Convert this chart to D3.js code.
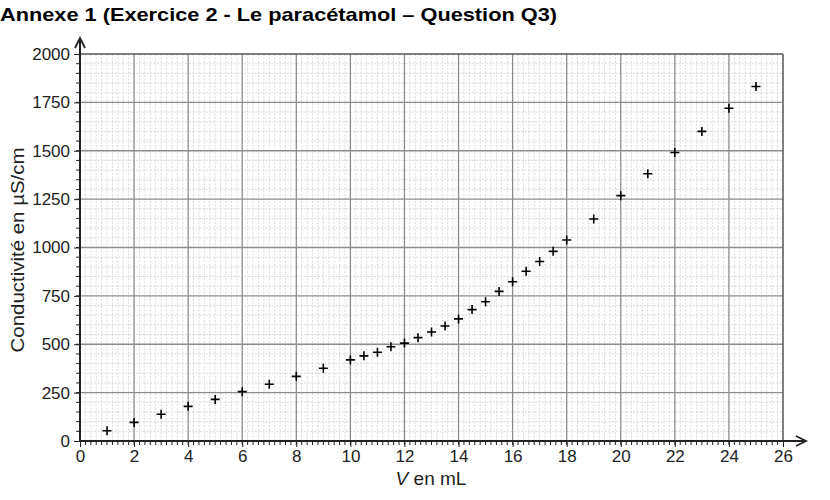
<!DOCTYPE html>
<html><head><meta charset="utf-8">
<script src="https://cdn.jsdelivr.net/npm/d3@7"></script>
<style>body{margin:0;background:#fff;} svg{display:block;font-family:"Liberation Sans",Arial,sans-serif;}</style>
</head><body>
<svg id="c" width="830" height="500"></svg>
<script>
const titleText = "Annexe 1 (Exercice 2 - Le paracétamol – Question Q3)";
const yLabel = "Conductivité en µS/cm";
const volumes = [1,2,3,4,5,6,7,8,9,10,10.5,11,11.5,12,12.5,13,13.5,14,14.5,15,15.5,16,16.5,17,17.5,18,19,20,21,22,23,24,25];
const conductivity = [53,96,138,179,215,255,293,334,376,419,440,459,487,506,534,563,594,631,679,720,773,823,877,928,980,1039,1147,1268,1381,1491,1600,1720,1832];
const xTicks = [0,2,4,6,8,10,12,14,16,18,20,22,24,26];
const yTicks = [0,250,500,750,1000,1250,1500,1750,2000];

const svg = d3.select("#c");
const x = d3.scaleLinear().domain([0,26]).range([80,783]);
const y = d3.scaleLinear().domain([0,2000]).range([441,54]);
const FF = "Liberation Sans, Arial, sans-serif";

// minor grid
const g = svg.append("g");
g.selectAll(".mx").data(d3.range(0,130).map(i=>i*0.2).filter((d,i)=>i%10!==0))
  .join("line").attr("x1",d=>x(d)).attr("x2",d=>x(d)).attr("y1",y(0)).attr("y2",y(2000))
  .attr("stroke","#cfcfcf").attr("stroke-width",0.8).attr("stroke-dasharray","2,1.5");
g.selectAll(".my").data(d3.range(0,40).map(i=>i*50).filter((d,i)=>i%5!==0))
  .join("line").attr("x1",x(0)).attr("x2",x(26)).attr("y1",d=>y(d)).attr("y2",d=>y(d))
  .attr("stroke","#cfcfcf").attr("stroke-width",0.8).attr("stroke-dasharray","2,1.5");
// major grid
g.selectAll(".Mx").data(xTicks.slice(1,-1)).join("line")
  .attr("x1",d=>x(d)).attr("x2",d=>x(d)).attr("y1",y(0)).attr("y2",y(2000))
  .attr("stroke","#8c8c8c").attr("stroke-width",1.3);
g.selectAll(".My").data(yTicks.slice(1,-1)).join("line")
  .attr("x1",x(0)).attr("x2",x(26)).attr("y1",d=>y(d)).attr("y2",d=>y(d))
  .attr("stroke","#8c8c8c").attr("stroke-width",1.3);
// frame top/right
g.append("line").attr("x1",x(0)).attr("x2",x(26)).attr("y1",y(2000)).attr("y2",y(2000)).attr("stroke","#555").attr("stroke-width",1.5);
g.append("line").attr("x1",x(26)).attr("x2",x(26)).attr("y1",y(0)).attr("y2",y(2000)).attr("stroke","#555").attr("stroke-width",1.5);

// minor ticks on axes
svg.append("g").selectAll("line").data(d3.range(1,130).map(i=>i*0.2)).join("line")
  .attr("x1",d=>x(d)).attr("x2",d=>x(d)).attr("y1",y(0)).attr("y2",y(0)+4)
  .attr("stroke","#222").attr("stroke-width",1);
svg.append("g").selectAll("line").data(d3.range(1,40).map(i=>i*50)).join("line")
  .attr("x1",x(0)-4).attr("x2",x(0)).attr("y1",d=>y(d)).attr("y2",d=>y(d))
  .attr("stroke","#222").attr("stroke-width",1);

// axes via d3
const xAxis = svg.append("g").attr("transform",`translate(0,${y(0)})`)
  .call(d3.axisBottom(x).tickValues(xTicks).tickSize(6).tickPadding(3).tickFormat(d3.format("d")));
xAxis.select(".domain").remove();
xAxis.selectAll("text").attr("font-size",17).attr("fill","#222").attr("font-family",FF);
xAxis.selectAll("line").attr("stroke","#222");
const yAxis = svg.append("g").attr("transform",`translate(${x(0)},0)`)
  .call(d3.axisLeft(y).tickValues(yTicks).tickSize(6).tickPadding(4).tickFormat(d3.format("d")));
yAxis.select(".domain").remove();
yAxis.selectAll("text").attr("font-size",17).attr("fill","#222").attr("font-family",FF);
yAxis.selectAll("line").attr("stroke","#222");

// axis lines with arrows
svg.append("line").attr("x1",x(0)).attr("x2",806).attr("y1",y(0)).attr("y2",y(0)).attr("stroke","#222").attr("stroke-width",2);
svg.append("line").attr("x1",x(0)).attr("x2",x(0)).attr("y1",y(0)).attr("y2",38).attr("stroke","#222").attr("stroke-width",2);
svg.append("path").attr("d",`M${796},${y(0)-5} L806,${y(0)} L${796},${y(0)+5}`).attr("fill","none").attr("stroke","#222").attr("stroke-width",1.8);
svg.append("path").attr("d",`M${x(0)-5},48 L${x(0)},38 L${x(0)+5},48`).attr("fill","none").attr("stroke","#222").attr("stroke-width",1.8);

// data crosses
const pts = volumes.map((v,i)=>({v,c:conductivity[i]}));
svg.append("g").selectAll("path").data(pts).join("path")
  .attr("d",d=>`M${x(d.v)-4.5},${y(d.c)} h9 M${x(d.v)},${y(d.c)-4.5} v9`)
  .attr("stroke","#000").attr("stroke-width",1.6);

// texts
svg.append("text").attr("x",0).attr("y",21).attr("font-size",19).attr("font-weight","bold")
  .attr("font-family",FF).attr("textLength",557).attr("lengthAdjust","spacingAndGlyphs").text(titleText);
svg.append("text").attr("transform","translate(24,250) rotate(-90)").attr("text-anchor","middle")
  .attr("font-size",19).attr("font-family",FF).attr("fill","#222")
  .attr("textLength",205).attr("lengthAdjust","spacingAndGlyphs").text(yLabel);
const xl = svg.append("text").attr("x",431).attr("y",485).attr("text-anchor","middle").attr("font-size",19).attr("font-family",FF).attr("fill","#222");
xl.append("tspan").attr("font-style","italic").text("V");
xl.append("tspan").text(" en mL");
</script>
</body></html>
